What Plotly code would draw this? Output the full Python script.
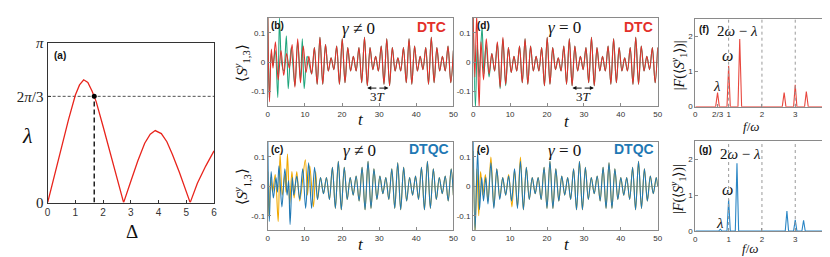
import math
import plotly.graph_objects as go

# ---------------- data ----------------
# (a) lambda vs Delta
delta_vals = [0, 0.25, 0.5, 0.75, 1.0, 1.15, 1.3, 1.45, 1.6, 1.75, 2.0, 2.25, 2.5, 2.74,
              3.0, 3.25, 3.5, 3.7, 3.88, 4.1, 4.3, 4.5, 4.75, 5.0, 5.14, 5.4, 5.7, 6.0]
lambda_vals = [0, 0.55, 1.1, 1.63, 2.12, 2.32, 2.42, 2.37, 2.2, 1.99, 1.5, 1.0, 0.5, 0.0,
               0.42, 0.82, 1.17, 1.35, 1.42, 1.36, 1.2, 0.95, 0.6, 0.22, 0.0, 0.38, 0.72, 1.02]
dot_delta = 1.68
dot_lambda = 2 * math.pi / 3

# (b) DTC, gamma != 0 : red (main) and green (early part differs)
b_red = [(0.0, 0.16), (0.45, -0.135), (0.95, 0.045), (1.4, -0.02), (2.05, 0.07), (2.8, -0.06),
         (3.55, 0.04), (4.3, -0.045), (5.05, 0.03), (5.8, -0.02), (6.55, 0.06), (7.3, -0.085),
         (8.05, 0.08), (8.8, -0.07), (9.55, 0.055), (10.3, -0.035), (11.05, 0.02), (11.8, -0.04),
         (12.55, 0.05), (13.3, -0.075), (14.05, 0.085), (14.8, -0.075), (15.55, 0.06), (16.3, -0.03),
         (17.05, 0.015), (17.8, -0.025), (18.55, 0.055), (19.3, -0.075), (20.05, 0.08), (20.8, -0.07),
         (21.55, 0.05), (22.3, -0.03), (23.05, 0.02), (23.8, -0.03), (24.55, 0.05), (25.3, -0.07),
         (26.05, 0.085), (26.8, -0.08), (27.55, 0.05), (28.3, -0.025), (29.05, 0.02), (29.8, -0.03),
         (30.55, 0.055), (31.3, -0.075), (32.05, 0.08), (32.8, -0.08), (33.55, 0.05), (34.3, -0.03),
         (35.05, 0.015), (35.8, -0.03), (36.55, 0.05), (37.3, -0.07), (38.05, 0.08), (38.8, -0.075),
         (39.55, 0.055), (40.3, -0.03), (41.05, 0.02), (41.8, -0.025), (42.55, 0.05), (43.3, -0.075),
         (44.05, 0.085), (44.8, -0.07), (45.55, 0.05), (46.3, -0.03), (47.05, 0.02), (47.8, -0.03),
         (48.55, 0.055), (49.3, -0.07), (50.0, 0.04)]
b_green_early = [(0.0, 0.16), (0.4, -0.12), (0.9, 0.03), (1.4, -0.01), (2.0, 0.04), (2.7, -0.12),
                 (3.15, 0.15), (3.7, 0.0), (4.3, -0.03), (5.0, 0.09), (5.5, -0.09), (6.3, 0.05),
                 (7.3, -0.08), (8.05, 0.07), (8.8, -0.06), (9.3, 0.08), (9.8, -0.09), (10.6, 0.02),
                 (11.8, -0.04), (12.55, 0.05)]

# (d) DTC, gamma = 0
d_red = [(0.0, 0.16), (0.45, -0.05), (0.95, 0.16), (1.6, -0.155), (2.1, 0.07), (2.8, -0.06),
         (3.55, 0.08), (4.3, -0.04), (5.05, 0.03), (5.8, -0.03), (6.55, 0.07), (7.3, -0.085),
         (8.05, 0.085), (8.8, -0.075), (9.55, 0.05), (10.3, -0.035), (11.05, 0.02), (11.8, -0.03),
         (12.55, 0.055), (13.3, -0.07), (14.05, 0.08), (14.8, -0.075), (15.55, 0.055), (16.3, -0.03),
         (17.05, 0.02), (17.8, -0.03), (18.55, 0.05), (19.3, -0.08), (20.05, 0.085), (20.8, -0.075),
         (21.55, 0.05), (22.3, -0.025), (23.05, 0.015), (23.8, -0.03), (24.55, 0.055), (25.3, -0.075),
         (26.05, 0.08), (26.8, -0.08), (27.55, 0.055), (28.3, -0.03), (29.05, 0.02), (29.8, -0.025),
         (30.55, 0.05), (31.3, -0.07), (32.05, 0.085), (32.8, -0.08), (33.55, 0.05), (34.3, -0.03),
         (35.05, 0.02), (35.8, -0.03), (36.55, 0.055), (37.3, -0.075), (38.05, 0.08), (38.8, -0.07),
         (39.55, 0.05), (40.3, -0.03), (41.05, 0.015), (41.8, -0.03), (42.55, 0.05), (43.3, -0.075),
         (44.05, 0.085), (44.8, -0.075), (45.55, 0.055), (46.3, -0.03), (47.05, 0.02), (47.8, -0.025),
         (48.55, 0.05), (49.3, -0.07), (50.0, 0.05)]
d_green_early = [(0.0, 0.16), (0.6, -0.155), (1.1, 0.06), (1.6, -0.05), (2.4, 0.12), (2.9, -0.04),
                 (3.5, 0.06), (4.3, -0.05), (5.05, 0.03), (5.8, -0.03), (6.55, 0.065), (7.3, -0.09),
                 (8.05, 0.08), (8.8, -0.08)]

# (c) DTQC, gamma != 0 : blue (main) and orange (early part differs)
c_blue = [(0.0, 0.16), (0.4, -0.12), (0.9, 0.05), (1.5, -0.04), (2.2, 0.03), (2.6, -0.02),
          (3.0, 0.07), (3.8, -0.07), (4.6, 0.06), (5.2, -0.03), (5.6, 0.02), (6.0, -0.13),
          (6.6, 0.03), (7.0, -0.03), (7.8, 0.035), (8.6, -0.045), (9.4, 0.06), (10.2, -0.075),
          (11.0, 0.08), (11.8, -0.075), (12.6, 0.065), (13.4, -0.045), (14.2, 0.03), (15.0, -0.025),
          (15.8, 0.03), (16.6, -0.045), (17.4, 0.065), (18.2, -0.075), (19.0, 0.085), (19.8, -0.08),
          (20.6, 0.065), (21.4, -0.045), (22.2, 0.03), (23.0, -0.03), (23.8, 0.035), (24.6, -0.05),
          (25.4, 0.065), (26.2, -0.08), (27.0, 0.085), (27.8, -0.075), (28.6, 0.06), (29.4, -0.045),
          (30.2, 0.035), (31.0, -0.025), (31.8, 0.03), (32.6, -0.045), (33.4, 0.06), (34.2, -0.075),
          (35.0, 0.08), (35.8, -0.08), (36.6, 0.065), (37.4, -0.05), (38.2, 0.03), (39.0, -0.03),
          (39.8, 0.035), (40.6, -0.045), (41.4, 0.065), (42.2, -0.08), (43.0, 0.085), (43.8, -0.075),
          (44.6, 0.06), (45.4, -0.045), (46.2, 0.03), (47.0, -0.025), (47.8, 0.035), (48.6, -0.05),
          (49.4, 0.06), (50.0, -0.03)]
c_orange_early = [(0.0, 0.05), (0.3, -0.1), (0.8, 0.03), (1.3, -0.02), (2.0, 0.04), (2.8, -0.12),
                  (3.3, 0.11), (3.9, -0.03), (4.6, 0.04), (4.9, -0.02), (5.3, 0.11), (5.9, -0.06),
                  (6.5, 0.05), (7.1, -0.04), (7.8, 0.05), (8.6, -0.05), (10.1, 0.09), (10.7, -0.03),
                  (11.3, 0.07), (12.3, -0.07), (12.9, 0.05), (13.4, -0.045)]

# (e) DTQC, gamma = 0
e_blue = [(0.0, 0.16), (0.5, -0.15), (1.2, 0.12), (1.7, -0.08), (2.3, 0.03), (2.8, -0.05),
          (3.4, 0.03), (4.0, -0.06), (4.8, 0.08), (5.6, -0.075), (6.4, 0.06), (7.2, -0.045),
          (8.0, 0.03), (8.8, -0.03), (9.6, 0.035), (10.4, -0.05), (11.2, 0.06), (12.0, -0.075),
          (12.8, 0.085), (13.6, -0.08), (14.4, 0.065), (15.2, -0.045), (16.0, 0.03), (16.8, -0.025),
          (17.6, 0.03), (18.4, -0.045), (19.2, 0.065), (20.0, -0.075), (20.8, 0.085), (21.6, -0.075),
          (22.4, 0.06), (23.2, -0.05), (24.0, 0.035), (24.8, -0.03), (25.6, 0.03), (26.4, -0.045),
          (27.2, 0.06), (28.0, -0.08), (28.8, 0.085), (29.6, -0.08), (30.4, 0.065), (31.2, -0.045),
          (32.0, 0.03), (32.8, -0.025), (33.6, 0.035), (34.4, -0.05), (35.2, 0.065), (36.0, -0.075),
          (36.8, 0.08), (37.6, -0.075), (38.4, 0.06), (39.2, -0.045), (40.0, 0.03), (40.8, -0.03),
          (41.6, 0.03), (42.4, -0.045), (43.2, 0.065), (44.0, -0.08), (44.8, 0.085), (45.6, -0.075),
          (46.4, 0.06), (47.2, -0.05), (48.0, 0.035), (48.8, -0.025), (49.6, 0.03), (50.0, 0.0)]
e_orange_early = [(0.0, 0.12), (0.5, -0.16), (1.0, 0.06), (1.5, -0.1), (2.0, 0.05), (2.6, -0.03),
                  (3.3, 0.04), (4.0, -0.05), (4.8, 0.1), (5.6, -0.07), (6.4, 0.06), (7.2, -0.04),
                  (8.0, 0.03), (8.8, -0.03), (9.6, 0.04), (10.5, -0.07), (11.2, 0.055), (12.0, -0.07),
                  (12.8, 0.1), (13.6, -0.08)]

# (f), (g) Fourier spectra
f_freq = [0, 0.61, 0.667, 0.72, 0.95, 1.0, 1.05, 1.28, 1.333, 1.39, 2.61, 2.667, 2.72,
          2.95, 3.0, 3.05, 3.28, 3.333, 3.39, 4.0]
f_amp = [0, 0, 0.4, 0, 0, 1.16, 0, 0, 1.92, 0, 0, 0.4, 0, 0, 0.62, 0, 0, 0.43, 0, 0]
g_freq = [0, 0.7, 0.75, 0.8, 0.95, 1.0, 1.05, 1.2, 1.25, 1.3, 2.7, 2.75, 2.8,
          2.95, 3.0, 3.05, 3.2, 3.25, 3.3, 4.0]
g_amp = [0, 0, 0.05, 0, 0, 0.88, 0, 0, 1.89, 0, 0, 0.56, 0, 0, 0.31, 0, 0, 0.3, 0, 0]

t_ticks = [0, 10, 20, 30, 40, 50]
s_ticks = [-0.1, 0, 0.1]
s_tick_text = ["-0.1", "0", "0.1"]

# ---------------- styling ----------------
W, H = 830, 257
def X(px): return px / W
def Y(py): return 1 - py / H

RED = "#e3302a"
GREEN = "#1fa57c"
BLUE = "#1f78b4"
ORANGE = "#f0a800"
SERIF = "Liberation Serif, Times New Roman, serif"
SANS = "Liberation Sans, Arial, sans-serif"
TICKC = "#333333"
FRAME = "#8a8a8a"

def merge(early, main):
    last = early[-1][0]
    return early + [p for p in main if p[0] > last]

fig = go.Figure()

def add_series(pts, color, xa, ya, width=1.1):
    fig.add_trace(go.Scatter(x=[p[0] for p in pts], y=[p[1] for p in pts], mode="lines",
                             line=dict(color=color, width=width, shape="spline", smoothing=0.9),
                             xaxis=xa, yaxis=ya, showlegend=False, hoverinfo="skip"))

# (a)
fig.add_trace(go.Scatter(x=[0, 6], y=[dot_lambda, dot_lambda], mode="lines",
                         line=dict(color="#222", width=0.8, dash="3px,2px"),
                         xaxis="x", yaxis="y", showlegend=False))
fig.add_trace(go.Scatter(x=[dot_delta, dot_delta], y=[0, dot_lambda], mode="lines",
                         line=dict(color="#222", width=1.5, dash="5px,3px"),
                         xaxis="x", yaxis="y", showlegend=False))
fig.add_trace(go.Scatter(x=delta_vals, y=lambda_vals, mode="lines",
                         line=dict(color="#e8241c", width=1.3),
                         xaxis="x", yaxis="y", showlegend=False))
fig.add_trace(go.Scatter(x=[dot_delta], y=[dot_lambda], mode="markers",
                         marker=dict(color="black", size=5),
                         xaxis="x", yaxis="y", showlegend=False))

# (b) x2/y2, (c) x3/y3, (d) x4/y4, (e) x5/y5
add_series(merge(b_green_early, b_red), GREEN, "x2", "y2")
add_series(b_red, RED, "x2", "y2")
add_series(merge(c_orange_early, c_blue), ORANGE, "x3", "y3")
add_series(c_blue, BLUE, "x3", "y3")
add_series(merge(d_green_early, d_red), GREEN, "x4", "y4")
add_series(d_red, RED, "x4", "y4")
add_series(merge(e_orange_early, e_blue), ORANGE, "x5", "y5")
add_series(e_blue, BLUE, "x5", "y5")

# (f), (g)
fig.add_trace(go.Scatter(x=f_freq, y=f_amp, mode="lines", line=dict(color="#e8473e", width=1.1),
                         xaxis="x6", yaxis="y6", showlegend=False))
fig.add_trace(go.Scatter(x=g_freq, y=g_amp, mode="lines", line=dict(color="#2a86c5", width=1.1),
                         xaxis="x7", yaxis="y7", showlegend=False))

def xax(dom, rng, tv, tt=None, anchor=None, font=None):
    d = dict(domain=dom, range=rng, tickvals=tv, showgrid=False, zeroline=False,
             showline=True, mirror=True, linecolor=FRAME, linewidth=1.2,
             ticks="inside", ticklen=3, tickcolor=FRAME,
             tickfont=font or dict(family=SANS, size=8, color=TICKC), anchor=anchor)
    if tt is not None:
        d["ticktext"] = tt
    return d

dom_a_x = [X(37), X(205)]
dom_b_x = [X(259.3), X(446.7)]
dom_d_x = [X(466.7), X(653)]
dom_f_x = [X(691), X(825.5)]
dom_top = [Y(96), Y(2)]
dom_bot = [Y(228.3), Y(134.3)]

layout = dict(width=W, height=H, margin=dict(l=0, r=0, t=0, b=0),
              paper_bgcolor="white", plot_bgcolor="white", showlegend=False)

ax_a = xax(dom_a_x, [0, 6], [0, 1, 2, 3, 4, 5, 6], anchor="y",
           font=dict(family=SANS, size=10, color=TICKC))
ax_a["linecolor"] = "#333"
ax_a["tickcolor"] = "#333"
ay_a = xax([Y(199), Y(29)], [0, math.pi], [0, 2 * math.pi / 3, math.pi],
           ["0", "2<i>π</i>/3", "<i>π</i>"], anchor="x",
           font=dict(family=SERIF, size=15, color="#222"))
ay_a["linecolor"] = "#333"
ay_a["tickcolor"] = "#333"
layout["xaxis"] = ax_a
layout["yaxis"] = ay_a

srange = [-0.149, 0.151]
for i, (dx, dy) in zip([2, 3, 4, 5], [(dom_b_x, dom_top), (dom_b_x, dom_bot),
                                       (dom_d_x, dom_top), (dom_d_x, dom_bot)]):
    layout[f"xaxis{i}"] = xax(dx, [0, 50], t_ticks, anchor=f"y{i}")
    ya = xax(dy, srange, s_ticks, s_tick_text, anchor=f"x{i}")
    ya["zeroline"] = True
    ya["zerolinecolor"] = "#b5b5b5"
    ya["zerolinewidth"] = 1
    layout[f"yaxis{i}"] = ya

layout["xaxis6"] = xax(dom_f_x, [0, 4], [0, 2 / 3, 1, 2, 3, 4], ["0", "2/3", "1", "2", "3", "4"], anchor="y6")
layout["yaxis6"] = xax([Y(96.7), Y(2.7)], [0, 2.5], [0, 1, 2], anchor="x6")
layout["xaxis7"] = xax(dom_f_x, [0, 4], [0, 1, 2, 3, 4], anchor="y7")
layout["yaxis7"] = xax([Y(229.3), Y(133.7)], [0, 2.5], [0, 1, 2], anchor="x7")

fig.update_layout(**layout)

# dotted vertical guides in (f), (g)
shapes = []
for xa, ya in [("x6", "y6"), ("x7", "y7")]:
    for v in [1, 2, 3]:
        shapes.append(dict(type="line", xref=xa, yref=f"{ya} domain", x0=v, x1=v, y0=0, y1=1,
                           line=dict(color="#9a9a9a", width=1, dash="dot")))
fig.update_layout(shapes=shapes)

ann = []
def txt(px, py, s, size, family=SERIF, color="#111", angle=0, xanchor="center"):
    ann.append(dict(x=X(px), y=Y(py), xref="paper", yref="paper", text=s, showarrow=False,
                    font=dict(family=family, size=size, color=color), textangle=angle,
                    xanchor=xanchor, yanchor="middle"))

# panel (a)
txt(41, 42, "<b>(a)</b>", 10, SANS, xanchor="left")
txt(17, 127, "<i>λ</i>", 22)
txt(122, 230, "Δ", 19)
# panel (b)
txt(261, 10, "<b>(b)</b>", 10, SANS, xanchor="left")
txt(351, 13, "<i>γ</i> ≠ 0", 17)
txt(425, 12, "<b>DTC</b>", 14, SANS, RED)
txt(233, 50, "⟨<i>S</i><sup><i>y</i></sup><sub>1,3</sub>⟩", 15, angle=-90)
txt(353, 110, "<i>t</i>", 17)
# panel (c)
txt(261, 142, "<b>(c)</b>", 10, SANS, xanchor="left")
txt(352, 143, "<i>γ</i> ≠ 0", 17)
txt(422, 142, "<b>DTQC</b>", 14, SANS, BLUE)
txt(233, 182, "⟨<i>S</i><sup><i>y</i></sup><sub>1,3</sub>⟩", 15, angle=-90)
txt(353, 244, "<i>t</i>", 17)
# panel (d)
txt(469, 10, "<b>(d)</b>", 10, SANS, xanchor="left")
txt(559, 12, "<i>γ</i> = 0", 17)
txt(634, 12, "<b>DTC</b>", 14, SANS, RED)
txt(561, 112, "<i>t</i>", 17)
# panel (e)
txt(469, 142, "<b>(e)</b>", 10, SANS, xanchor="left")
txt(559, 143, "<i>γ</i> = 0", 17)
txt(629, 142, "<b>DTQC</b>", 14, SANS, BLUE)
txt(561, 244, "<i>t</i>", 17)
# panel (f)
txt(693, 14, "<b>(f)</b>", 10, SANS, xanchor="left")
txt(674, 53, "|<i>F</i>(⟨<i>S</i><sup><i>y</i></sup><sub>1</sub>⟩)|", 14, angle=-90)
txt(747, 118, "<i>f</i>/<i>ω</i>", 13)
# panel (g)
txt(693, 142, "<b>(g)</b>", 10, SANS, xanchor="left")
txt(674, 185, "|<i>F</i>(⟨<i>S</i><sup><i>y</i></sup><sub>1</sub>⟩)|", 14, angle=-90)
txt(746, 248, "<i>f</i>/<i>ω</i>", 13)

# peak labels (data coords)
def dtxt(xa, ya, x, y, s, size):
    ann.append(dict(x=x, y=y, xref=xa, yref=ya, text=s, showarrow=False,
                    font=dict(family=SERIF, size=size, color="#111")))
dtxt("x6", "y6", 0.64, 0.6, "<i>λ</i>", 15)
dtxt("x6", "y6", 0.97, 1.45, "<i>ω</i>", 16)
dtxt("x6", "y6", 1.27, 2.15, "2<i>ω</i> − <i>λ</i>", 15)
dtxt("x7", "y7", 0.74, 0.22, "<i>λ</i>", 15)
dtxt("x7", "y7", 0.98, 1.15, "<i>ω</i>", 16)
dtxt("x7", "y7", 1.35, 2.15, "2<i>ω</i> − <i>λ</i>", 15)

# 3T arrows
for xa, ya, t0, t1 in [("x2", "y2", 26.8, 32.5), ("x4", "y4", 26.9, 32.7)]:
    mid = (t0 + t1) / 2
    for end in (t0, t1):
        ann.append(dict(x=end, y=-0.088, xref=xa, yref=ya, ax=mid, ay=-0.088,
                        axref=xa, ayref=ya, text="", showarrow=True, arrowhead=2,
                        arrowsize=0.8, arrowwidth=1, arrowcolor="#111"))
    ann.append(dict(x=mid, y=-0.117, xref=xa, yref=ya, text="3<i>T</i>", showarrow=False,
                    font=dict(family=SERIF, size=13, color="#111")))

fig.update_layout(annotations=ann)
fig.write_html("out.html")
